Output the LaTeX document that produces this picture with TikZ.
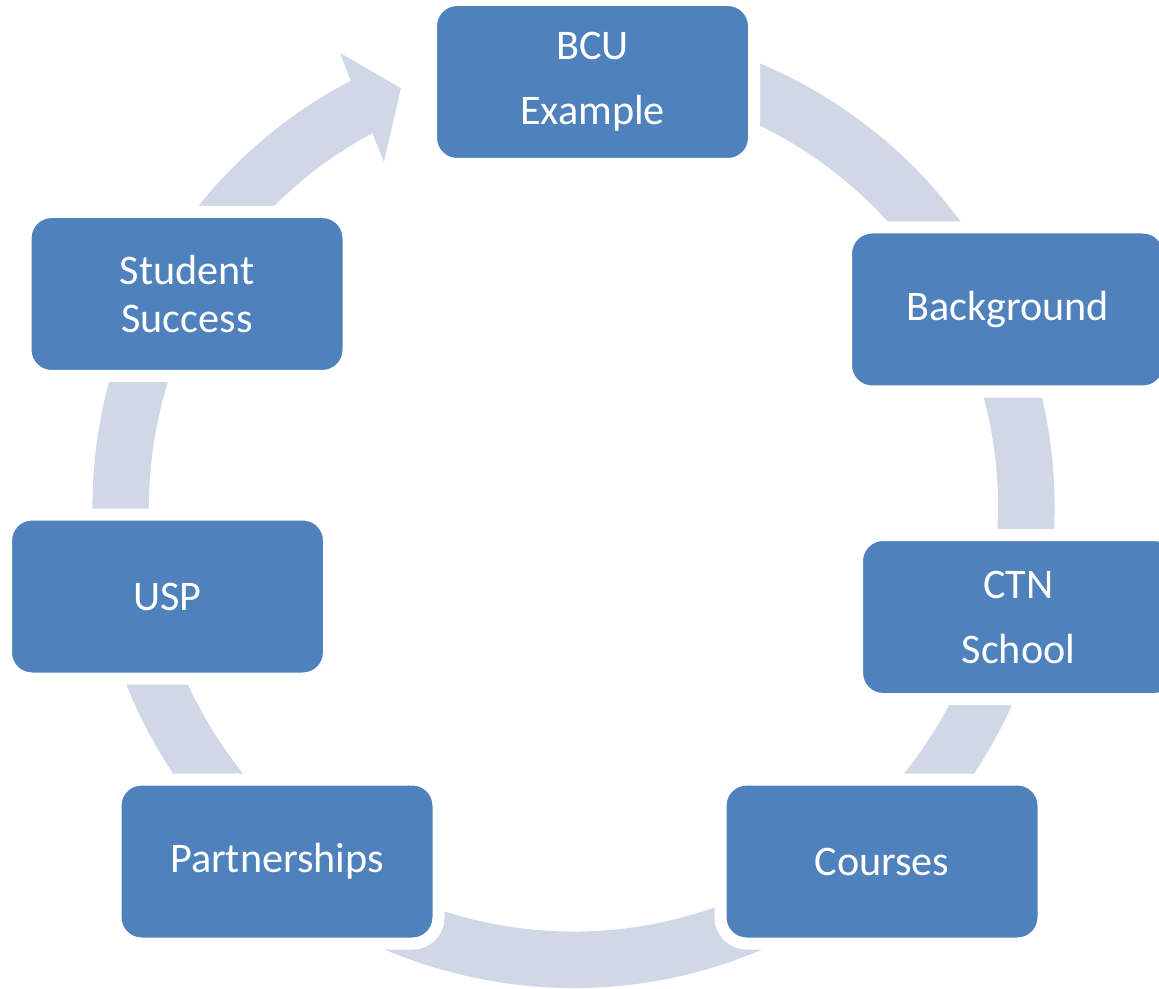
\documentclass[tikz,border=0pt]{standalone}
\usepackage{fontspec}
\setmainfont{Carlito}
\definecolor{stageblue}{RGB}{79,129,189}
\definecolor{ringblue}{RGB}{208,216,232}
\tikzset{
  stage/.style={rectangle, rounded corners=0.52cm, fill=stageblue, draw=white,
    line width=0.24cm, minimum width=6.46cm, minimum height=3.28cm,
    inner sep=0pt, text=white, align=center, font=\fontsize{24}{37}\selectfont}
}
\begin{document}
\begin{tikzpicture}

  \useasboundingbox (0,0) rectangle (23.18,19.76);

  \begin{scope}[shift={(11.47,9.62)}]
    \fill[ringblue] (440:9.62) arc[start angle=440, end angle=117.6, radius=9.62]
      -- (117.2:10.21) -- (112.4:9.06) -- (118.8:7.87) -- (118.3:8.49)
      arc[start angle=118.3, end angle=440, radius=8.49] -- cycle;
  \end{scope}

  \node[stage] (bcu) at (11.85,18.12) {BCU\\Example};
  \node[stage] (background) at (20.15,13.57) {Background};
  \node[stage] (ctn) at (20.37,7.42) {CTN\\School};
  \node[stage] (courses) at (17.64,2.53) {Courses};
  \node[stage] (partners) at (5.54,2.53) {Partnerships};
  \node[stage] (usp) at (3.35,7.83) {USP};
  \node[stage, font=\fontsize{24}{27}\selectfont] (success) at (3.74,13.88) {Student\\Success};

\end{tikzpicture}
\end{document}
